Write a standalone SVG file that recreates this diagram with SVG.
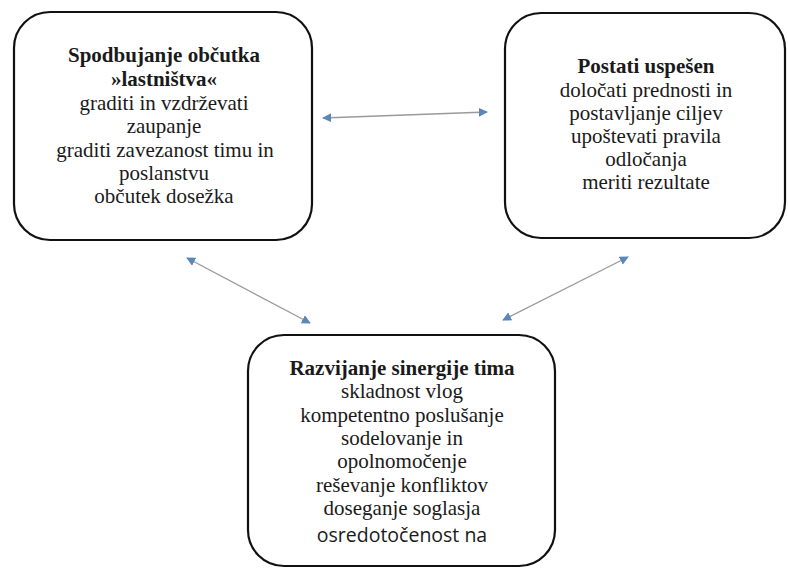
<svg xmlns="http://www.w3.org/2000/svg" width="788" height="569" viewBox="0 0 788 569">
<defs>
<style>
.box{fill:#fff;stroke:#111;stroke-width:2.2}
.t{font-family:"Liberation Serif","Times New Roman",serif;font-size:21px;fill:#1a1a1a;text-anchor:middle}
.b{font-weight:bold}
.s{font-family:"Open Sans","Noto Sans",sans-serif;font-size:19.5px;fill:#1a1a1a;text-anchor:middle}
.c{stroke:#9a9a9a;stroke-width:1.3;fill:none;marker-start:url(#ah);marker-end:url(#ah)}
</style>
<marker id="ah" viewBox="0 0 10 10" refX="9" refY="5" markerWidth="9" markerHeight="9" markerUnits="userSpaceOnUse" orient="auto-start-reverse">
<path d="M0,0 L10,5 L0,10 z" fill="#5a86b8"/>
</marker>
</defs>
<rect width="788" height="569" fill="#fff"/>
<g id="node-ownership">
<rect class="box" x="14" y="12" width="298" height="228" rx="36" ry="36"/>
<text class="t b" x="164" y="62">Spodbujanje občutka</text>
<text class="t b" x="164" y="86">»lastništva«</text>
<text class="t" x="164" y="110">graditi in vzdrževati</text>
<text class="t" x="164" y="133">zaupanje</text>
<text class="t" x="165" y="157">graditi zavezanost timu in</text>
<text class="t" x="164" y="180">poslanstvu</text>
<text class="t" x="164" y="203">občutek dosežka</text>
</g>
<g id="node-success">
<rect class="box" x="505" y="13" width="280" height="225" rx="36" ry="36"/>
<text class="t b" x="646" y="73">Postati uspešen</text>
<text class="t" x="646" y="97">določati prednosti in</text>
<text class="t" x="646" y="120">postavljanje ciljev</text>
<text class="t" x="646" y="143">upoštevati pravila</text>
<text class="t" x="646" y="166">odločanja</text>
<text class="t" x="646" y="189">meriti rezultate</text>
</g>
<g id="node-synergy">
<rect class="box" x="248" y="335" width="307" height="231" rx="36" ry="36"/>
<text class="t b" x="402" y="375">Razvijanje sinergije tima</text>
<text class="t" x="402" y="398">skladnost vlog</text>
<text class="t" x="402" y="422">kompetentno poslušanje</text>
<text class="t" x="402" y="445">sodelovanje in</text>
<text class="t" x="402" y="468">opolnomočenje</text>
<text class="t" x="402" y="492">reševanje konfliktov</text>
<text class="t" x="402" y="515">doseganje soglasja</text>
<text class="s" x="402" y="542">osredotočenost na</text>
</g>
<g id="connectors">
<line class="c" x1="323" y1="118" x2="487" y2="112"/>
<line class="c" x1="187" y1="258" x2="310" y2="323"/>
<line class="c" x1="503" y1="320" x2="628" y2="257"/>
</g>
</svg>
